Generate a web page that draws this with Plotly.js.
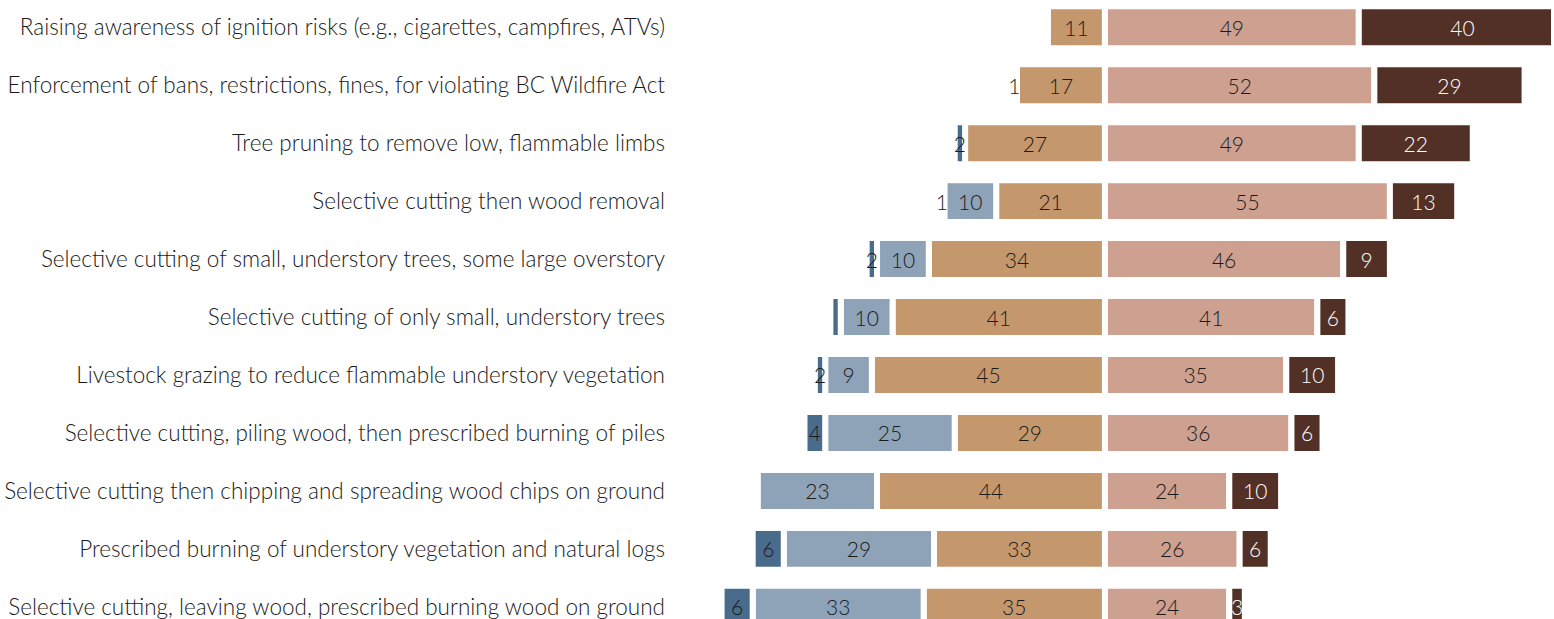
<!DOCTYPE html>
<html>
<head>
<meta charset="utf-8">
<script src="https://cdn.plot.ly/plotly-3.0.1.min.js"></script>
<style>
  html, body { margin: 0; padding: 0; background: #fff; }
  #chart { width: 1554px; height: 619px; }
</style>
</head>
<body>
<div id="chart"></div>
<script>
// Wildfire mitigation practices, % of respondents
const practices = [
    'Raising awareness of ignition risks (e.g., cigarettes, campfires, ATVs)',
    'Enforcement of bans, restrictions, fines, for violating BC Wildfire Act',
    'Tree pruning to remove low, flammable limbs',
    'Selective cutting then wood removal',
    'Selective cutting of small, understory trees, some large overstory',
    'Selective cutting of only small, understory trees',
    'Livestock grazing to reduce flammable understory vegetation',
    'Selective cutting, piling wood, then prescribed burning of piles',
    'Selective cutting then chipping and spreading wood chips on ground',
    'Prescribed burning of understory vegetation and natural logs',
    'Selective cutting, leaving wood, prescribed burning wood on ground'
];

const stronglyOppose   = [0, 0, 2, 1, 2, 2, 2, 4, 0, 6, 6];
const stronglyOpposeLabels = ['', '', '2', '1', '2', '', '2', '4', '', '6', '6'];
const somewhatOppose   = [0, 1, 0, 10, 10, 10, 9, 25, 23, 29, 33];
const neutral          = [11, 17, 27, 21, 34, 41, 45, 29, 44, 33, 35];
const somewhatSupport  = [49, 52, 49, 55, 46, 41, 35, 36, 24, 26, 24];
const stronglySupport  = [40, 29, 22, 13, 9, 6, 10, 6, 10, 6, 3];

const fontFamily = 'Lato, "Open Sans", sans-serif';

function labelsOf(values) {
    return values.map(v => v > 0 ? String(v) : '');
}

function makeTrace(name, values, color, textColor, labels, negative) {
    return {
        type: 'bar',
        orientation: 'h',
        name: name,
        y: practices,
        x: values.map(v => negative ? -v : v),
        text: labels || labelsOf(values),
        textposition: 'inside',
        insidetextanchor: 'middle',
        constraintext: 'none',
        textangle: 0,
        textfont: { family: fontFamily, size: 21, weight: 300, color: textColor },
        marker: { color: color, line: { color: '#ffffff', width: 6 } },
        hoverinfo: 'skip'
    };
}

// negative side stacks outward from zero in trace order
const data = [
    makeTrace('Neutral', neutral, '#c4976c', '#1a1a1a', null, true),
    makeTrace('Somewhat oppose', somewhatOppose, '#8ea3b8', '#1a1a1a', null, true),
    makeTrace('Strongly oppose', stronglyOppose, '#4a6c8c', '#1a1a1a', stronglyOpposeLabels, true),
    makeTrace('Somewhat support', somewhatSupport, '#cda090', '#1a1a1a', null, false),
    makeTrace('Strongly support', stronglySupport, '#523026', '#ffffff', null, false)
];

const layout = {
    width: 1554,
    height: 619,
    barmode: 'relative',
    bargap: 0.276,
    showlegend: false,
    paper_bgcolor: '#ffffff',
    plot_bgcolor: '#ffffff',
    margin: { t: 0, b: 0, l: 690, r: 3 },
    xaxis: {
        range: [-80.1, 86.1],
        visible: false,
        showgrid: false,
        zeroline: false
    },
    yaxis: {
        type: 'category',
        range: [10.21, -0.47],
        showgrid: false,
        zeroline: false,
        showline: false,
        ticks: '',
        ticklabelstandoff: 24,
        tickfont: { family: fontFamily, size: 22.5, weight: 300, color: '#1a1a1a' }
    }
};

Plotly.newPlot('chart', data, layout, { displayModeBar: false, staticPlot: true });
</script>
</body>
</html>
